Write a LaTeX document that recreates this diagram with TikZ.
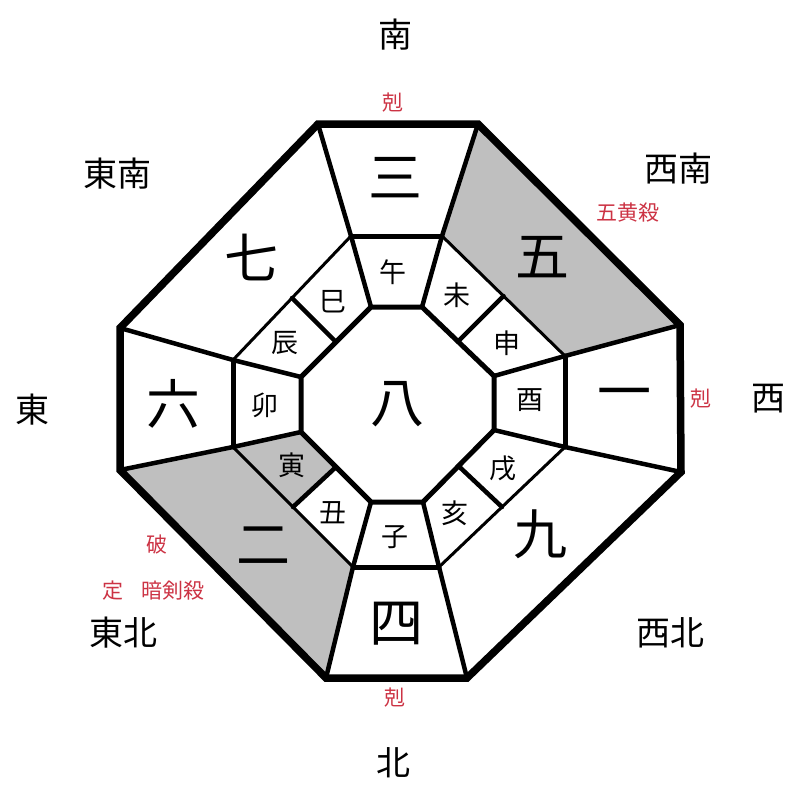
\documentclass[tikz,border=0pt]{standalone}
\usepackage{fontspec}
\setmainfont{Noto Sans CJK JP}
\usetikzlibrary{calc}
\definecolor{kyored}{RGB}{204,51,68}
\tikzset{
x=1pt, y=-1pt, % one unit is one pixel of the 800x800 picture, y runs down
kyusei/.style={font=\fontsize{54}{54}\selectfont, inner sep=0pt}, % the nine stars
eto/.style={font=\fontsize{27}{27}\selectfont, inner sep=0pt}, % the twelve signs
houi/.style={font=\fontsize{34}{34}\selectfont, inner sep=0pt}, % the directions
satsu/.style={font=\fontsize{21}{21}\selectfont, inner sep=0pt, text=kyored}, % red marks
darkcell/.style={fill=black!25},
rim/.style={line width=7.5pt},
ring/.style={line width=5pt, line cap=round},
spoke/.style={line width=4.5pt, line cap=round},
thinline/.style={line width=3pt, line cap=round},
}
\begin{document}
\begin{tikzpicture}
\useasboundingbox (0,0) rectangle (800,800);
% corners of the three octagons
\foreach \i/\x/\y in {1/318/124, 2/478/124, 3/680/325, 4/681/472, 5/467/678, 6/326/678, 7/120/470, 8/120/328}
  \coordinate (O\i) at (\x,\y);
\foreach \i/\x/\y in {1/351/236, 2/442/236, 3/565/356, 4/565/447, 5/439/567, 6/353/567, 7/233/447, 8/233/360}
  \coordinate (M\i) at (\x,\y);
\foreach \i/\x/\y in {1/371/307, 2/422/307, 3/494/376, 4/494/430, 5/423/502, 6/371/502, 7/301/432, 8/301/377}
  \coordinate (I\i) at (\x,\y);
\foreach \a/\b in {2/3, 4/5, 6/7, 8/1} {
  \coordinate (MD\a) at ($(M\a)!.5!(M\b)$);
  \coordinate (ID\a) at ($(I\a)!.5!(I\b)$);
}
% shaded cells
\fill[darkcell] (O2) -- (O3) -- (M3) -- (M2) -- cycle;
\fill[darkcell] (O6) -- (O7) -- (M7) -- (M6) -- cycle;
\fill[darkcell] (M7) -- (MD6) -- (ID6) -- (I7) -- cycle;
% lines
\draw[thinline] (M2) -- (M3) (M4) -- (M5) (M6) -- (M7) (M8) -- (M1);
\foreach \i in {1,...,8}
  \draw[spoke] (O\i) -- (M\i) (M\i) -- (I\i);
\foreach \a in {2,4,6,8}
  \draw[spoke] (MD\a) -- (ID\a);
\draw[ring] (M1) -- (M2) (M3) -- (M4) (M5) -- (M6) (M7) -- (M8);
\draw[ring] (I1) -- (I2) -- (I3) -- (I4) -- (I5) -- (I6) -- (I7) -- (I8) -- cycle;
\draw[rim] (O1) -- (O2) -- (O3) -- (O4) -- (O5) -- (O6) -- (O7) -- (O8) -- cycle;
% stars
\node[kyusei] (k8) at (397,404) {八};
\node[kyusei] (k3) at (395,178) {三};
\node[kyusei] (k5) at (542,257) {五};
\node[kyusei] (k1) at (624,400) {一};
\node[kyusei] (k9) at (540,534) {九};
\node[kyusei] (k4) at (396,624) {四};
\node[kyusei] (k2) at (263,546) {二};
\node[kyusei] (k6) at (173,404) {六};
\node[kyusei] (k7) at (251,257) {七};
% signs
\node[eto] (uma) at (393,272) {午};
\node[eto] (hitsuji) at (457,295) {未};
\node[eto] (saru) at (507,343) {申};
\node[eto] (tori) at (530,400) {酉};
\node[eto] (inu) at (503,468) {戌};
\node[eto] (i) at (455,513) {亥};
\node[eto] (ne) at (395,537) {子};
\node[eto] (ushi) at (333,513) {丑};
\node[eto] (tora) at (292,465) {寅};
\node[eto] (u) at (265,405) {卯};
\node[eto] (tatsu) at (285,343) {辰};
\node[eto] (mi) at (333,302) {巳};
% directions
\node[houi] (minami) at (395,35) {南};
\node[houi] (seinan) at (678,169) {西南};
\node[houi] (nishi) at (768,399) {西};
\node[houi] (seihoku) at (670,633) {西北};
\node[houi] (kita) at (393,763) {北};
\node[houi] (touhoku) at (123,633) {東北};
\node[houi] (higashi) at (32,410) {東};
\node[houi] (tounan) at (117,174) {東南};
% red marks
\node[satsu] (kokuS) at (393,103) {剋};
\node[satsu] (kokuW) at (701,399) {剋};
\node[satsu] (kokuN) at (395,698) {剋};
\node[satsu] (gouou) at (628,213) {五黄殺};
\node[satsu] (ha) at (157,545) {破};
\node[satsu] (jou) at (113,591) {定};
\node[satsu] (anken) at (173,591) {暗剣殺};
\end{tikzpicture}
\end{document}
